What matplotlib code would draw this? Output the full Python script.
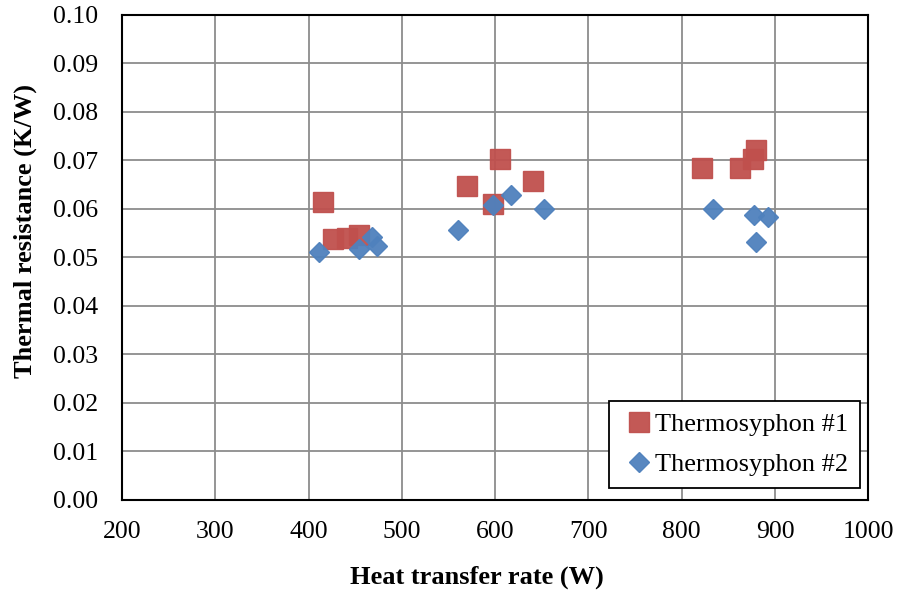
import numpy as np
import matplotlib
matplotlib.use("Agg")
from matplotlib import pyplot as plt

# Thermosyphon #1 : heat transfer rate (W) and thermal resistance (K/W)
q_ts1 = [415, 426, 441, 454, 570, 598, 605, 641, 822, 862, 876, 880]
r_ts1 = [0.0615, 0.0538, 0.0539, 0.0546, 0.0648, 0.0609, 0.0703, 0.0658, 0.0685, 0.0684, 0.0703, 0.0721]

# Thermosyphon #2
q_ts2 = [411, 454, 468, 473, 560, 598, 617, 652, 834, 878, 893, 880]
r_ts2 = [0.0511, 0.0517, 0.0543, 0.0524, 0.0557, 0.0608, 0.0629, 0.0599, 0.0599, 0.0588, 0.0584, 0.0531]

xticks = np.arange(200, 1001, 100)
yticks = np.arange(0.0, 0.1001, 0.01)

plt.rcParams['font.family'] = ['Liberation Serif', 'DejaVu Serif']

fig = plt.figure(figsize=(8.97, 5.91), dpi=100)
ax = fig.add_axes([0.136, 0.154, 0.832, 0.821])

ax.plot(q_ts1, r_ts1, linestyle='none', marker='s', markersize=14.2,
        color='#c0504d', markeredgecolor='#c0504d', alpha=0.95, label='Thermosyphon #1', zorder=3)
ax.plot(q_ts2, r_ts2, linestyle='none', marker='D', markersize=10.0,
        color='#4f81bd', markeredgecolor='#4f81bd', alpha=0.95, label='Thermosyphon #2', zorder=4)

ax.set_xlim(200, 1000)
ax.set_ylim(0.0, 0.10)
ax.set_xticks(xticks)
ax.set_yticks(yticks)
ax.set_yticklabels(['%.2f' % v for v in yticks])
ax.grid(True, color='#8c8c8c', linewidth=1.3)
ax.set_axisbelow(True)
ax.tick_params(length=0, labelsize=18.5)
ax.tick_params(axis='x', pad=15)
ax.tick_params(axis='y', pad=17)
for s in ax.spines.values():
    s.set_linewidth(1.5)
    s.set_color('black')

ax.set_xlabel('Heat transfer rate (W)', fontsize=19, fontweight='bold', va='center')
ax.set_ylabel('Thermal resistance (K/W)', fontsize=19, fontweight='bold', va='center')
ax.xaxis.set_label_coords(0.476, -0.159)
ax.yaxis.set_label_coords(-0.129, 0.555)

leg = ax.legend(loc='lower right', bbox_to_anchor=(0.989, 0.025), fontsize=19, frameon=True,
                fancybox=False, edgecolor='black', handlelength=1.4, handletextpad=-0.1,
                borderpad=0.45, labelspacing=0.62, borderaxespad=0)
leg.get_frame().set_linewidth(1.3)
leg.get_frame().set_alpha(1)

fig.savefig('out.png', dpi=100)
